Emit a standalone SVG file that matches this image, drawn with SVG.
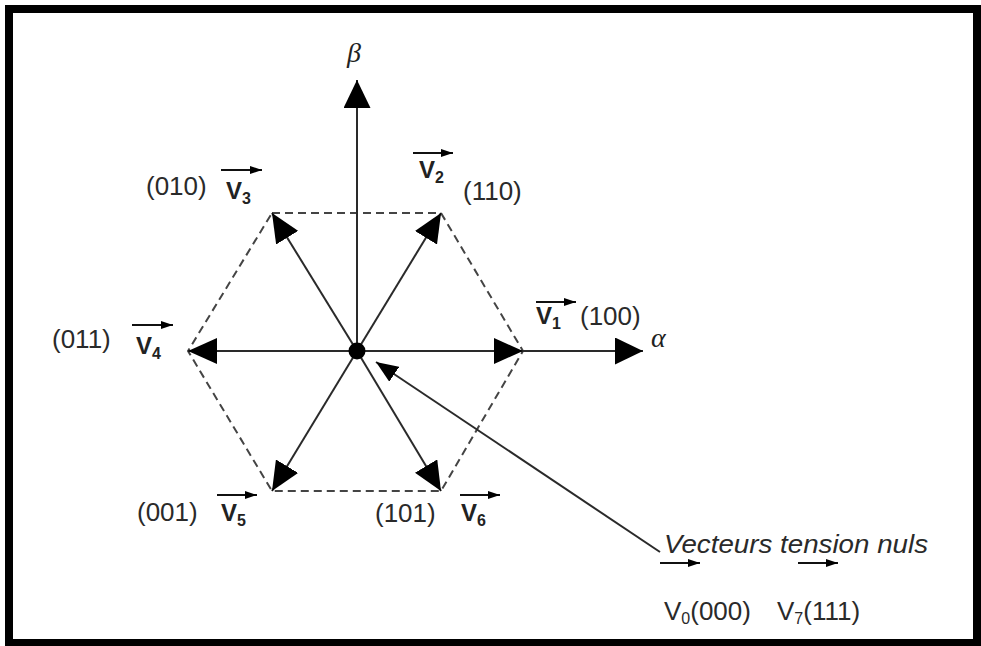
<svg xmlns="http://www.w3.org/2000/svg" width="981" height="646" viewBox="0 0 981 646">
<style>
.lbl{font-family:"Liberation Sans",Arial,sans-serif;font-size:26px;fill:#2a2a2a}
.v{font-family:"Liberation Sans",Arial,sans-serif;font-size:24px;font-weight:bold;fill:#222}
.sub{font-size:16px}
.vec{stroke:#2a2a2a;stroke-width:2;fill:none}
.hex{stroke:#444;stroke-width:2;fill:none;stroke-dasharray:8 5}
.ov{stroke:#111;stroke-width:2;fill:none;marker-end:url(#sm)}
.greek{font-family:"Liberation Serif","Times New Roman",serif;font-style:italic;font-size:28px;fill:#222}
</style>
<defs>
<marker id="big" markerUnits="userSpaceOnUse" markerWidth="29" markerHeight="26" refX="29" refY="13" orient="auto"><path d="M0,0 L29,13 L0,26 z" fill="#000"/></marker>
<marker id="ax" markerUnits="userSpaceOnUse" markerWidth="28" markerHeight="27" refX="28" refY="13.5" orient="auto"><path d="M0,0 L28,13.5 L0,27 z" fill="#000"/></marker>
<marker id="ptr" markerUnits="userSpaceOnUse" markerWidth="22" markerHeight="18" refX="22" refY="9" orient="auto"><path d="M0,0 L22,9 L0,18 z" fill="#000"/></marker>
<marker id="sm" markerUnits="userSpaceOnUse" markerWidth="12" markerHeight="8" refX="12" refY="4" orient="auto"><path d="M0,0 L12,4 L0,8 z" fill="#000"/></marker>
</defs>
<rect x="9" y="9" width="968" height="634" fill="#fff" stroke="#000" stroke-width="8"/>
<g id="hexagon">
<polygon class="hex" points="272,213 441,213 523,351 441,491 272,491 188,351"/>
</g>
<g id="connectors">
<line class="vec" x1="357" y1="351" x2="643" y2="351" marker-end="url(#ax)"/>
<line class="vec" x1="357" y1="351" x2="357" y2="80" marker-end="url(#ax)"/>
<line class="vec" x1="357" y1="351" x2="523" y2="351" marker-end="url(#big)"/>
<line class="vec" x1="357" y1="351" x2="441" y2="213" marker-end="url(#big)"/>
<line class="vec" x1="357" y1="351" x2="272" y2="213" marker-end="url(#big)"/>
<line class="vec" x1="357" y1="351" x2="188" y2="351" marker-end="url(#big)"/>
<line class="vec" x1="357" y1="351" x2="272" y2="491" marker-end="url(#big)"/>
<line class="vec" x1="357" y1="351" x2="441" y2="491" marker-end="url(#big)"/>
<line class="vec" x1="660" y1="552" x2="376" y2="362" marker-end="url(#ptr)"/>
</g>
<g id="origin"><circle cx="357" cy="351" r="8.5" fill="#000"/></g>
<g id="axis-labels">
<text class="greek" x="347" y="62">β</text>
<text class="greek" x="651" y="347">α</text>
</g>
<g id="V1">
<line class="ov" x1="536" y1="302" x2="576" y2="302"/>
<text class="v" x="536" y="324">V<tspan class="sub" dy="5">1</tspan></text>
<text class="lbl" x="580" y="325">(100)</text>
</g>
<g id="V2">
<line class="ov" x1="413" y1="153" x2="453" y2="153"/>
<text class="v" x="419" y="178">V<tspan class="sub" dy="5">2</tspan></text>
<text class="lbl" x="463" y="200">(110)</text>
</g>
<g id="V3">
<text class="lbl" x="146" y="195">(010)</text>
<line class="ov" x1="221" y1="170" x2="262" y2="170"/>
<text class="v" x="226" y="199">V<tspan class="sub" dy="5">3</tspan></text>
</g>
<g id="V4">
<text class="lbl" x="52" y="348">(011)</text>
<line class="ov" x1="132" y1="325" x2="173" y2="325"/>
<text class="v" x="136" y="354">V<tspan class="sub" dy="5">4</tspan></text>
</g>
<g id="V5">
<text class="lbl" x="137" y="521">(001)</text>
<line class="ov" x1="217" y1="495" x2="257" y2="495"/>
<text class="v" x="221" y="521">V<tspan class="sub" dy="5">5</tspan></text>
</g>
<g id="V6">
<text class="lbl" x="375" y="522">(101)</text>
<line class="ov" x1="460" y1="495" x2="500" y2="495"/>
<text class="v" x="461" y="521">V<tspan class="sub" dy="5">6</tspan></text>
</g>
<g id="null-vectors">
<text x="664" y="553" style="font-family:'Liberation Sans',Arial,sans-serif;font-style:italic;font-size:25px;fill:#2a2a2a" textLength="264" lengthAdjust="spacingAndGlyphs">Vecteurs tension nuls</text>
<line class="ov" x1="660" y1="563" x2="700" y2="563"/>
<line class="ov" x1="798" y1="563" x2="838" y2="563"/>
<text class="lbl" x="664" y="620">V<tspan class="sub" dy="4">0</tspan><tspan dy="-4">(000)</tspan></text>
<text class="lbl" x="777" y="620">V<tspan class="sub" dy="4">7</tspan><tspan dy="-4">(111)</tspan></text>
</g>
</svg>
